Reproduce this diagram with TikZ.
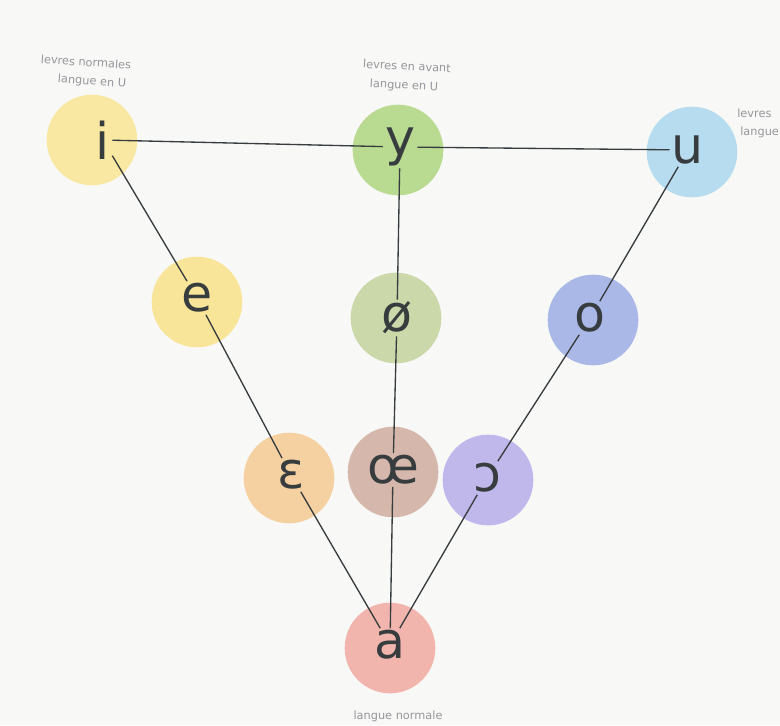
\documentclass[tikz,border=0pt]{standalone}
\usepackage{fontspec}
\newfontfamily\ipafont{DejaVu Sans}
\newfontfamily\notefont{DejaVu Sans}

\definecolor{paper}{RGB}{248,248,247}
\definecolor{inkline}{RGB}{55,60,62}
\definecolor{notegray}{RGB}{150,150,155}
\definecolor{yelI}{RGB}{250,228,140}
\definecolor{yelE}{RGB}{250,225,130}
\definecolor{grnY}{RGB}{170,212,120}
\definecolor{oliveOE}{RGB}{192,208,150}
\definecolor{blueU}{RGB}{168,214,238}
\definecolor{blueO}{RGB}{150,168,228}
\definecolor{orangeEps}{RGB}{245,200,140}
\definecolor{brownOE}{RGB}{205,168,152}
\definecolor{lavOpen}{RGB}{178,168,232}
\definecolor{salmonA}{RGB}{240,165,155}

\tikzset{
blob/.style={circle, draw=none, minimum size=68pt, inner sep=0pt, fill opacity=0.8},
vowel/.style={inner sep=1.5pt, text=inkline, font=\ipafont\fontsize{38}{40}\selectfont},
link/.style={draw=inkline, line width=1pt},
note/.style={text=notegray, font=\notefont\fontsize{8.5}{10}\selectfont, inner sep=0.75pt}}

\begin{document}
\begin{tikzpicture}[x=0.75pt,y=0.75pt,yscale=-1,xscale=1]
% page
\fill[paper] (0,0) rectangle (780,725);
\useasboundingbox (0,0) rectangle (780,725);
\clip (0,0) rectangle (780,725);

% coloured discs
\node[blob, fill=yelI] (ci) at (92,140) {};
\node[blob, fill=grnY] (cy) at (398,150) {};
\node[blob, fill=blueU] (cu) at (692,152) {};
\node[blob, fill=yelE] (ce) at (197,302) {};
\node[blob, fill=oliveOE] (cphi) at (396,318) {};
\node[blob, fill=blueO] (co) at (593,320) {};
\node[blob, fill=orangeEps] (ceps) at (289,478) {};
\node[blob, fill=brownOE] (coe) at (393,472) {};
\node[blob, fill=lavOpen] (copen) at (488,480) {};
\node[blob, fill=salmonA] (ca) at (390,648) {};

% Text Node
\node[vowel] (i) at (103,140) {i};
\node[vowel] (y) at (400,147) {y};
\node[vowel] (u) at (688,150) {u};
\node[vowel] (e) at (197,298) {e};
\node[vowel] (phi) at (397,318) {ø};
\node[vowel] (o) at (590,318) {o};
\node[vowel] (eps) at (291,475) {ɛ};
\node[vowel] (oe) at (393,470) {œ};
\node[vowel] (open) at (487,478) {ɔ};
\node[vowel] (a) at (390,645) {a};

% lines
\draw[link] (i) -- (y);
\draw[link] (y) -- (u);
\draw[link] (i) -- (e);
\draw[link] (e) -- (eps);
\draw[link] (eps) -- (a);
\draw[link] (y) -- (phi);
\draw[link] (phi) -- (oe);
\draw[link] (oe) -- (a);
\draw[link] (u) -- (o);
\draw[link] (o) -- (open);
\draw[link] (open) -- (a);

% Text Node
\node[note, rotate=-4] (ni1) at (86,62) {levres normales};
\node[note, rotate=-4] (ni2) at (92,82) {langue en U};
\node[note, rotate=-3] (ny1) at (407,66) {levres en avant};
\node[note, rotate=-3] (ny2) at (404,86) {langue en U};
\node[note, anchor=west] (nu1) at (736,113) {levres};
\node[note, anchor=west] (nu2) at (739,132) {langue};
\node[note] (na) at (398,716) {langue normale};
\end{tikzpicture}
\end{document}
